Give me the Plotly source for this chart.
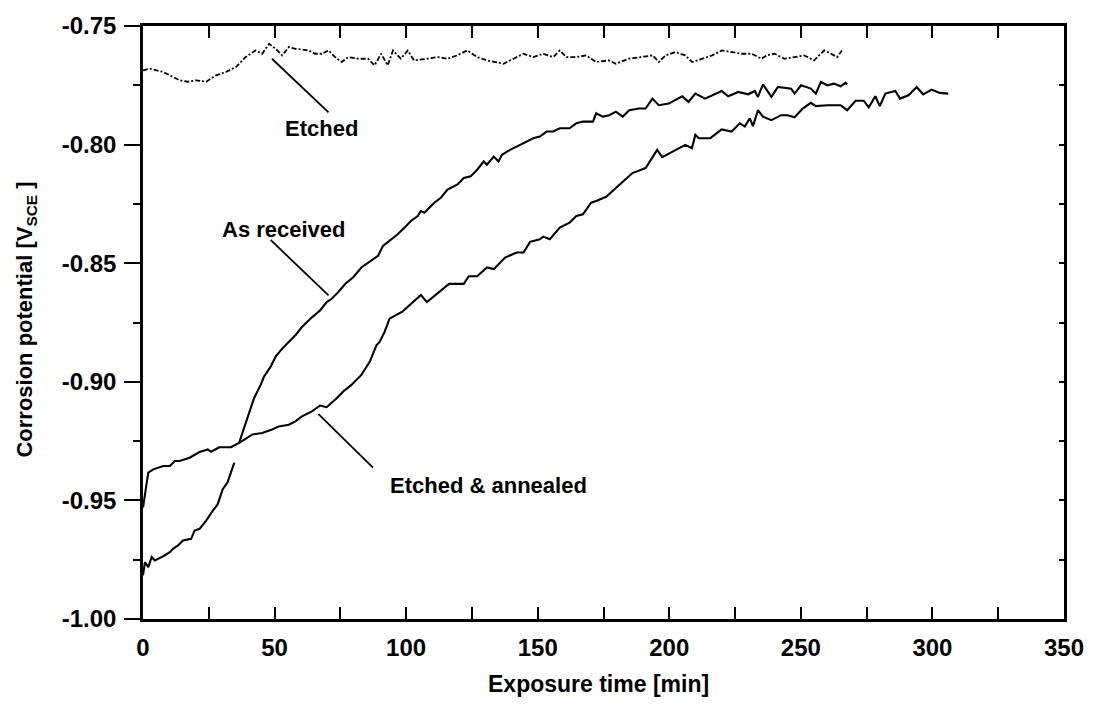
import plotly.graph_objects as go

# ---------------- data ----------------
etched_t = [0, 2.6, 5.2, 7.5, 10.2, 13.9, 17, 20.2, 24, 27.8, 31.5, 35.3, 39, 42.8, 45.3,
            47.9, 50.4, 52.9, 55.4, 57.9, 62.9, 65.4, 67.9, 70.5, 73, 75.5, 78, 81.8,
            85.5, 88, 90.5, 93, 95, 98, 100.6, 103, 108, 112, 115.7, 119.4, 123.2, 127,
            130.7, 133.3, 137, 140.8, 144.6, 148.3, 152, 155.9, 158.4, 160.9, 164.7,
            168.4, 172.2, 177, 179.7, 184.6, 189.9, 193.7, 196, 198.6, 202.3, 206,
            208.7, 212.5, 216.3, 220, 223.8, 227.6, 231.3, 235, 237, 240, 243.8, 247.6,
            251.3, 255, 258.9, 261.5, 263.8, 265.6]
etched_v = [-0.7687, -0.7680, -0.7687, -0.7693, -0.7708, -0.7729, -0.7735, -0.7729, -0.7735,
            -0.7708, -0.7694, -0.7673, -0.7631, -0.7603, -0.7617, -0.7575, -0.7596, -0.7624,
            -0.7589, -0.7596, -0.7603, -0.7617, -0.7617, -0.7603, -0.7631, -0.7652, -0.7631,
            -0.7638, -0.7638, -0.7666, -0.7617, -0.7666, -0.7603, -0.7638, -0.7603, -0.7645,
            -0.7638, -0.7631, -0.7638, -0.7624, -0.7603, -0.7631, -0.7645, -0.7652, -0.7659,
            -0.7638, -0.7617, -0.7631, -0.7617, -0.7631, -0.7603, -0.7631, -0.7631, -0.7624,
            -0.7652, -0.7645, -0.7659, -0.7638, -0.7631, -0.7624, -0.7652, -0.7624, -0.7610,
            -0.7624, -0.7652, -0.7638, -0.7624, -0.7603, -0.7610, -0.7617, -0.7617, -0.7638,
            -0.7624, -0.7617, -0.7638, -0.7631, -0.7624, -0.7645, -0.7603, -0.7617, -0.7631,
            -0.7603]

asrec_t = [0, 0.75, 2, 3.3, 4.5, 7.6, 10.2, 11.4, 13.3, 15.2, 18.3, 19.6, 21.5, 24, 26.5,
           28.4, 30.3, 32.1, 34.7, None, 36.5, 38.4, 40.3, 42.2, 44.7, 46, 48.5, 50.4,
           52.9, 55.4, 57.9, 60.4, 63.6, 67.3, 69.8, 71.7, 74.2, 76.8, 79.9, 83, 86.8,
           89.3, 91.2, 93.7, 96.8, 99.4, 101.8, 104.4, 105.6, 106.9, 110.7, 113.2, 115.7,
           119.4, 121.9, 124.5, 127, 129.5, 130.7, 133.3, 135.1, 136.4, 139.5, 143.3,
           145.8, 148.3, 150.8, 153.4, 155.9, 158.4, 162.1, 164.7, 167.2, 171, 172.2,
           174.7, 177.2, 179.7, 182.3, 184.8, 188.5, 191, 193.6, 196, 199.8, 204.9,
           207.3, 209.9, 213.6, 219.9, 222.4, 226.2, 230, 232.5, 233.7, 235.6, 238.8,
           241.3, 246.3, 247.6, 250.1, 253.8, 255.7, 257.6, 260.1, 262.6, 265.1, 267,
           267.6]
asrec_v = [-0.9816, -0.9760, -0.9781, -0.9739, -0.9753, -0.9736, -0.9718, -0.9704, -0.9690,
           -0.9669, -0.9662, -0.9627, -0.9620, -0.9585, -0.9544, -0.9516, -0.9453, -0.9425,
           -0.9341, None, -0.9258, -0.9195, -0.9139, -0.9069, -0.9013, -0.8978, -0.8936,
           -0.8894, -0.8860, -0.8832, -0.8804, -0.8769, -0.8734, -0.8699, -0.8664, -0.8650,
           -0.8622, -0.8588, -0.8559, -0.8518, -0.8490, -0.8469, -0.8427, -0.8406, -0.8378,
           -0.8350, -0.8322, -0.8301, -0.8280, -0.8287, -0.8245, -0.8224, -0.8190, -0.8169,
           -0.8141, -0.8134, -0.8106, -0.8071, -0.8085, -0.8050, -0.8071, -0.8043, -0.8022,
           -0.8001, -0.7987, -0.7973, -0.7966, -0.7945, -0.7945, -0.7931, -0.7931, -0.7910,
           -0.7903, -0.7903, -0.7868, -0.7882, -0.7876, -0.7861, -0.7882, -0.7855, -0.7848,
           -0.7848, -0.7806, -0.7834, -0.7827, -0.7796, -0.7820, -0.7785, -0.7806, -0.7774,
           -0.7796, -0.7778, -0.7788, -0.7774, -0.7799, -0.7746, -0.7799, -0.7757, -0.7764,
           -0.7785, -0.7750, -0.7764, -0.7785, -0.7736, -0.7750, -0.7743, -0.7754, -0.7740,
           -0.7746]

annealed_t = [0, 2, 3.9, 7.7, 10.2, 12.1, 13.9, 17.7, 21.5, 24.6, 25.9, 29, 33.4, 37.2,
              41.6, 45.3, 49.1, 51.6, 55.4, 57.9, 60.4, 64.2, 67.3, 69.8, 73.6, 76.1, 79.2,
              83, 86.2, 88.7, 89.9, 91.8, 93.7, 96.2, 98.7, 101.9, 105.6, 107.9, 111.9,
              114.4, 116.3, 121.9, 123.8, 127, 130.7, 133.3, 137.6, 142, 144.6, 147.1,
              150.8, 152.1, 154.6, 158.4, 162.1, 164.7, 167.2, 170.3, 172.2, 176, 179.7,
              182.3, 186, 191, 192.9, 195.4, 197.3, 202.3, 206.1, 208.6, 209.9, 211.2,
              215.6, 219.9, 223.7, 226.8, 228.7, 230.6, 231.8, 233.7, 235.6, 238.8, 242.5,
              245, 247.6, 250.7, 253.8, 255.7, 260.1, 265.1, 267.6, 270.8, 273.9, 275.8,
              278.3, 280, 282.1, 285.9, 287.7, 290.9, 294, 296.5, 299.7, 302.8, 306]
annealed_v = [-0.9530, -0.9383, -0.9369, -0.9355, -0.9355, -0.9334, -0.9334, -0.9320, -0.9296,
              -0.9285, -0.9295, -0.9276, -0.9276, -0.9253, -0.9222, -0.9216, -0.9201, -0.9188,
              -0.9181, -0.9167, -0.9146, -0.9125, -0.9100, -0.9107, -0.9069, -0.9041, -0.9013,
              -0.8971, -0.8915, -0.8846, -0.8832, -0.8790, -0.8734, -0.8720, -0.8703, -0.8671,
              -0.8634, -0.8664, -0.8626, -0.8601, -0.8587, -0.8587, -0.8555, -0.8555, -0.8518,
              -0.8525, -0.8476, -0.8455, -0.8455, -0.8410, -0.8399, -0.8388, -0.8399, -0.8350,
              -0.8329, -0.8301, -0.8294, -0.8245, -0.8238, -0.8220, -0.8183, -0.8155, -0.8120,
              -0.8099, -0.8064, -0.8022, -0.8053, -0.8022, -0.8001, -0.8015, -0.7959, -0.7973,
              -0.7973, -0.7936, -0.7945, -0.7910, -0.7924, -0.7889, -0.7922, -0.7855, -0.7882,
              -0.7897, -0.7876, -0.7876, -0.7885, -0.7848, -0.7824, -0.7838, -0.7834, -0.7834,
              -0.7855, -0.7815, -0.7815, -0.7843, -0.7796, -0.7838, -0.7785, -0.7774, -0.7806,
              -0.7792, -0.7757, -0.7788, -0.7768, -0.7782, -0.7785]

labels = ["Etched", "As received", "Etched & annealed"]
label_pos = [(67.7, -0.7931), (53.5, -0.8358), (131.3, -0.9439)]
leader_lines = [((49.0, -0.7638), (70.5, -0.7864)),
                ((48.5, -0.8402), (70.5, -0.8636)),
                ((66.7, -0.9136), (87.4, -0.9362))]

x_range = [0, 350]
y_range = [-1.00, -0.75]
x_ticks = [0, 50, 100, 150, 200, 250, 300, 350]
y_ticks = [-1.00, -0.95, -0.90, -0.85, -0.80, -0.75]
y_ticktext = ["-1.00", "-0.95", "-0.90", "-0.85", "-0.80", "-0.75"]

# ---------------- figure ----------------
FONT = "Arial, 'Liberation Sans', sans-serif"
fig = go.Figure()

fig.add_trace(go.Scatter(x=etched_t, y=etched_v, mode="lines",
                         line=dict(color="black", width=1.8, dash="5px,2px,2px,2px"),
                         showlegend=False, hoverinfo="skip"))
fig.add_trace(go.Scatter(x=asrec_t, y=asrec_v, mode="lines", connectgaps=False,
                         line=dict(color="black", width=2.1),
                         showlegend=False, hoverinfo="skip"))
fig.add_trace(go.Scatter(x=annealed_t, y=annealed_v, mode="lines",
                         line=dict(color="black", width=2.1),
                         showlegend=False, hoverinfo="skip"))
# dummy trace to carry the right-hand tick axis
fig.add_trace(go.Scatter(x=[None], y=[None], yaxis="y2", showlegend=False,
                         hoverinfo="skip"))

for (p0, p1) in leader_lines:
    fig.add_shape(type="line", x0=p0[0], y0=p0[1], x1=p1[0], y1=p1[1],
                  xref="x", yref="y", line=dict(color="black", width=1.8))

for txt, (lx, ly) in zip(labels, label_pos):
    fig.add_annotation(x=lx, y=ly, xref="x", yref="y", text=txt, showarrow=False,
                       font=dict(family=FONT, size=22, color="black", weight="bold"),
                       xanchor="center", yanchor="middle")

fig.add_annotation(x=0.495, y=-0.11, xref="paper", yref="paper",
                   text="<b>Exposure time [min]</b>", showarrow=False,
                   font=dict(family=FONT, size=23, color="black", weight="bold"),
                   xanchor="center", yanchor="middle")
fig.add_annotation(x=-0.127, y=0.505, xref="paper", yref="paper",
                   text="<b>Corrosion potential [V<sub>SCE</sub> ]</b>", showarrow=False,
                   textangle=-90,
                   font=dict(family=FONT, size=22, color="black", weight="bold"),
                   xanchor="center", yanchor="middle")

fig.update_layout(
    width=1096, height=712,
    margin=dict(l=143, r=24, t=22, b=93),
    paper_bgcolor="white", plot_bgcolor="white",
    xaxis=dict(range=x_range, tickvals=x_ticks, showgrid=False, zeroline=False,
               showline=True, linecolor="black", linewidth=2.5, mirror="allticks",
               ticks="inside", ticklen=12, tickwidth=2, tickcolor="black",
               minor=dict(dtick=25, tick0=0, ticks="inside", ticklen=6,
                          tickwidth=2, tickcolor="black", showgrid=False),
               tickfont=dict(family=FONT, size=24, color="black", weight="bold"),
               ticklabelstandoff=5),
    yaxis=dict(range=y_range, tickvals=y_ticks, ticktext=y_ticktext, showgrid=False,
               zeroline=False, showline=True, linecolor="black", linewidth=2.5,
               mirror=True, ticks="outside", ticklen=16, tickwidth=2,
               tickcolor="black",
               minor=dict(dtick=0.025, tick0=-1.0, ticks="outside", ticklen=7,
                          tickwidth=2, tickcolor="black", showgrid=False),
               tickfont=dict(family=FONT, size=24, color="black", weight="bold"),
               ticklabelstandoff=3),
    yaxis2=dict(range=y_range, overlaying="y", side="right", anchor="x",
                showgrid=False, zeroline=False, showline=False,
                tickvals=[-1.0, -0.975, -0.95, -0.925, -0.9, -0.875, -0.85, -0.825,
                          -0.8, -0.775, -0.75],
                ticks="inside", ticklen=5, tickwidth=2, tickcolor="black",
                showticklabels=False),
)

fig.write_html("out.html")
